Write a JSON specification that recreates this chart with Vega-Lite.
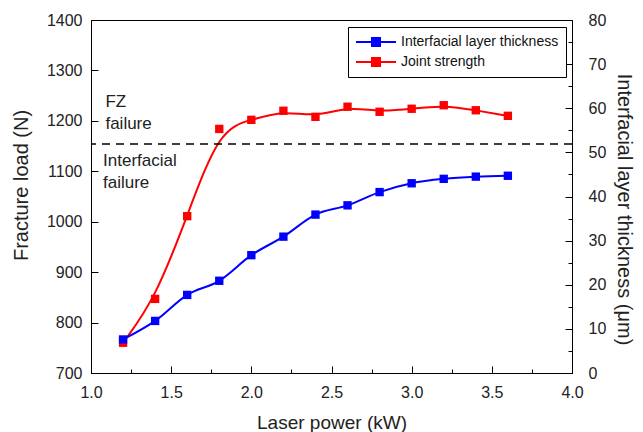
{
  "$schema": "https://vega.github.io/schema/vega-lite/v6.json",
  "width": 481,
  "height": 353,
  "autosize": "none",
  "padding": {"left": 91, "top": 20, "right": 71, "bottom": 59},
  "background": "white",
  "config": {
    "font": "Liberation Sans",
    "view": {"stroke": "black", "strokeWidth": 1},
    "axis": {
      "grid": false,
      "domainColor": "black",
      "domainWidth": 1,
      "tickColor": "black",
      "tickWidth": 1,
      "labelColor": "#222",
      "labelFontSize": 16,
      "titleColor": "#222",
      "titleFontWeight": "normal",
      "titleFontSize": 19,
      "labelFlush": false,
      "labelOverlap": false
    },
    "legend": {
      "labelFontSize": 14,
      "labelColor": "#111"
    }
  },
  "layer": [
    {
      "layer": [
        {
          "data": {"name": "strength", "values": [
            {"power": 1.2, "load": 760, "series": "Joint strength"},
            {"power": 1.4, "load": 847, "series": "Joint strength"},
            {"power": 1.6, "load": 1011, "series": "Joint strength"},
            {"power": 1.8, "load": 1184, "series": "Joint strength"},
            {"power": 2.0, "load": 1202, "series": "Joint strength"},
            {"power": 2.2, "load": 1220, "series": "Joint strength"},
            {"power": 2.4, "load": 1208, "series": "Joint strength"},
            {"power": 2.6, "load": 1228, "series": "Joint strength"},
            {"power": 2.8, "load": 1218, "series": "Joint strength"},
            {"power": 3.0, "load": 1224, "series": "Joint strength"},
            {"power": 3.2, "load": 1231, "series": "Joint strength"},
            {"power": 3.4, "load": 1221, "series": "Joint strength"},
            {"power": 3.6, "load": 1210, "series": "Joint strength"}
          ]},
          "encoding": {
            "x": {
              "field": "power", "type": "quantitative",
              "scale": {"domain": [1, 4], "nice": false, "zero": false},
              "axis": {
                "title": "Laser power (kW)",
                "titleFontSize": 19,
                "titlePadding": 10,
                "values": [1, 1.25, 1.5, 1.75, 2, 2.25, 2.5, 2.75, 3, 3.25, 3.5, 3.75, 4],
                "format": ".1f",
                "labelExpr": "abs(datum.value * 2 - round(datum.value * 2)) < 0.001 ? datum.label : ''",
                "tickSize": {"condition": {"test": "abs(datum.value * 2 - round(datum.value * 2)) < 0.001", "value": -7}, "value": -4},
                "labelPadding": 18
              }
            },
            "y": {
              "field": "load", "type": "quantitative",
              "scale": {"domain": [700, 1400], "nice": false, "zero": false},
              "axis": {
                "title": "Fracture load (N)",
                "titleFontSize": 20,
                "titlePadding": 15,
                "titleY": 165,
                "values": [700, 750, 800, 850, 900, 950, 1000, 1050, 1100, 1150, 1200, 1250, 1300, 1350, 1400],
                "format": "d",
                "labelExpr": "datum.value % 100 === 0 ? datum.label : ''",
                "tickSize": {"condition": {"test": "datum.value % 100 === 0", "value": -7}, "value": -4},
                "labelPadding": 16
              }
            },
            "color": {"field": "series", "type": "nominal"}
          },
          "layer": [
            {"mark": {"type": "line", "interpolate": "basis", "strokeWidth": 2}},
            {"mark": {"type": "point", "shape": "square", "filled": true, "size": 70, "opacity": 1}}
          ]
        },
        {
          "data": {"values": [{"load": 1154}]},
          "mark": {"type": "rule", "color": "black", "strokeDash": [8, 6], "strokeWidth": 1.5},
          "encoding": {"y": {"field": "load", "type": "quantitative"}}
        },
        {
          "data": {"values": [
            {"power": 1.09, "load": 1237, "label": "FZ"},
            {"power": 1.09, "load": 1193, "label": "failure"},
            {"power": 1.075, "load": 1121, "label": "Interfacial"},
            {"power": 1.075, "load": 1076, "label": "failure"}
          ]},
          "mark": {"type": "text", "align": "left", "baseline": "middle", "fontSize": 17, "color": "#222"},
          "encoding": {
            "x": {"field": "power", "type": "quantitative"},
            "y": {"field": "load", "type": "quantitative"},
            "text": {"field": "label"}
          }
        }
      ]
    },
    {
      "data": {"name": "thickness", "values": [
        {"power": 1.2, "thick": 7.6, "series": "Interfacial layer thickness"},
        {"power": 1.4, "thick": 11.8, "series": "Interfacial layer thickness"},
        {"power": 1.6, "thick": 17.7, "series": "Interfacial layer thickness"},
        {"power": 1.8, "thick": 20.9, "series": "Interfacial layer thickness"},
        {"power": 2.0, "thick": 26.7, "series": "Interfacial layer thickness"},
        {"power": 2.2, "thick": 30.9, "series": "Interfacial layer thickness"},
        {"power": 2.4, "thick": 35.9, "series": "Interfacial layer thickness"},
        {"power": 2.6, "thick": 38.0, "series": "Interfacial layer thickness"},
        {"power": 2.8, "thick": 41.0, "series": "Interfacial layer thickness"},
        {"power": 3.0, "thick": 43.0, "series": "Interfacial layer thickness"},
        {"power": 3.2, "thick": 44.0, "series": "Interfacial layer thickness"},
        {"power": 3.4, "thick": 44.5, "series": "Interfacial layer thickness"},
        {"power": 3.6, "thick": 44.7, "series": "Interfacial layer thickness"}
      ]},
      "encoding": {
        "x": {"field": "power", "type": "quantitative"},
        "y": {
          "field": "thick", "type": "quantitative",
          "scale": {"domain": [0, 80], "nice": false},
          "axis": {
            "orient": "right",
            "title": "Interfacial layer thickness (μm)",
            "titleFontSize": 20,
            "titlePadding": 8,
            "titleY": 189,
            "values": [0, 5, 10, 15, 20, 25, 30, 35, 40, 45, 50, 55, 60, 65, 70, 75, 80],
            "format": "d",
            "labelExpr": "datum.value % 10 === 0 ? datum.label : ''",
            "tickSize": {"condition": {"test": "datum.value % 10 === 0", "value": -7}, "value": -4},
            "labelPadding": 23
          }
        },
        "color": {
          "field": "series", "type": "nominal",
          "scale": {"domain": ["Interfacial layer thickness", "Joint strength"], "range": ["#0000FF", "#FF0000"]},
          "legend": {
            "title": null,
            "orient": "none",
            "legendX": 257,
            "legendY": 7,
            "strokeColor": "black",
            "fillColor": "white",
            "padding": 7,
            "symbolType": "M-1,0H1M-0.2,-0.2H0.2V0.2H-0.2Z",
            "symbolSize": 1600,
            "symbolStrokeWidth": 2,
            "clipHeight": 16,
            "rowPadding": 4,
            "labelOffset": 4,
            "encode": {
              "symbols": {"update": {
                "stroke": {"scale": "color", "field": "value"},
                "fill": {"scale": "color", "field": "value"},
                "strokeWidth": {"value": 2},
                "opacity": {"value": 1}
              }}
            }
          }
        }
      },
      "layer": [
        {"mark": {"type": "line", "interpolate": "monotone", "strokeWidth": 2}},
        {"mark": {"type": "point", "shape": "square", "filled": true, "size": 70, "opacity": 1}}
      ]
    }
  ],
  "resolve": {"scale": {"y": "independent"}}
}
